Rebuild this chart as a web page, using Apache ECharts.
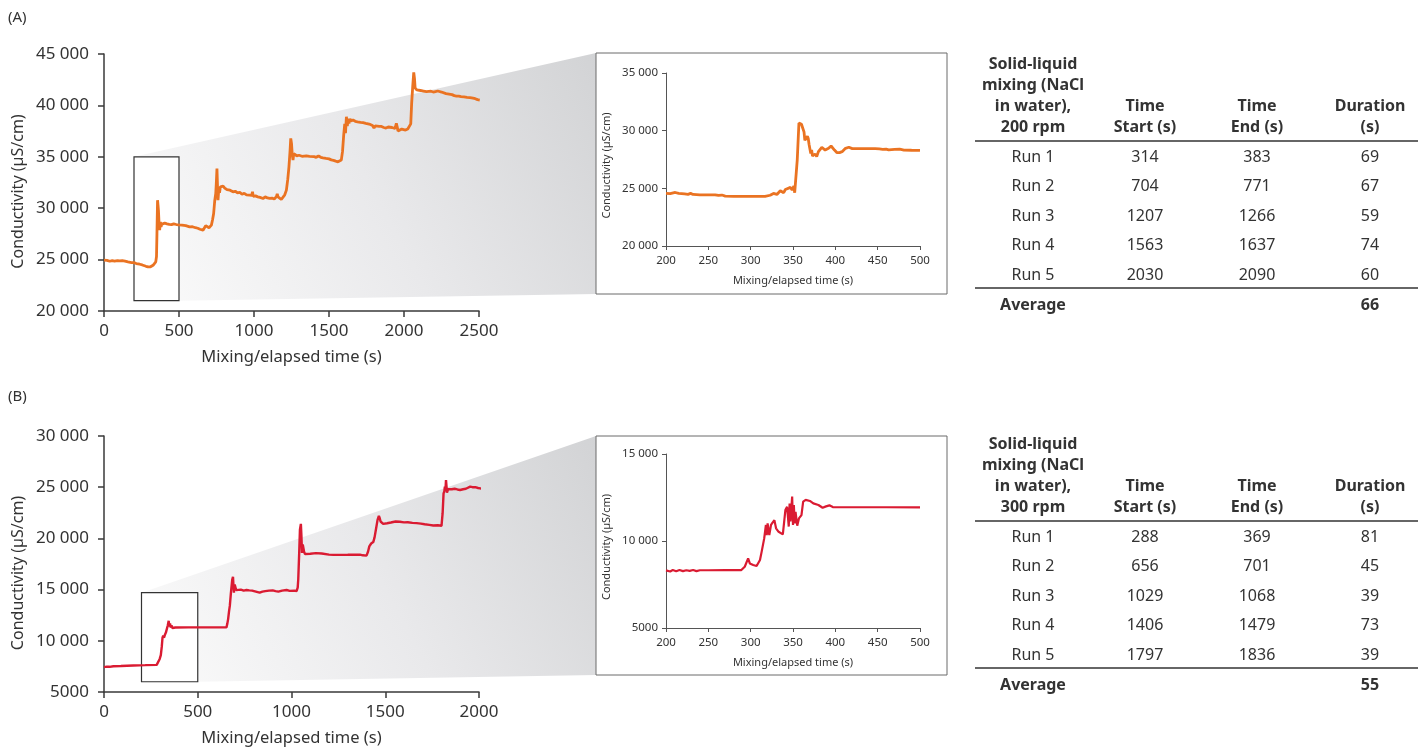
<!DOCTYPE html>
<html>
<head>
<meta charset="utf-8">
<script src="https://cdn.jsdelivr.net/npm/echarts/dist/echarts.min.js"></script>
<style>
  html, body { margin: 0; padding: 0; background: #ffffff; }
  #c { width: 1418px; height: 748px; }
</style>
</head>
<body>
<div id="c"></div>
<script>
// ---- Conductivity traces, [time (s), conductivity (µS/cm)] ----
// (A) 200 rpm, full run
const traceA = [
  [0,24950],[10,24880],[20,24930],[38,24840],[55,24900],[70,24860],[90,24900],[105,24880],
  [116,25050],[122,24900],[140,24850],[160,24780],[183,24713],[200,24700],[215,24620],[238,24550],
  [255,24480],[265,24420],[280,24350],[294,24290],[310,24300],[320,24380],[327,24450],[338,24600],
  [345,24778],[350,25300],[353,27500],[357,30783],[360,30300],[363,29800],[367,28500],[371,27860],
  [374,28400],[376,28670],[380,28200],[386,28450],[394,28445],[405,28550],[420,28480],[435,28420],
  [450,28400],[465,28480],[482,28413],[500,28380],[520,28350],[545,28300],[571,28186],[590,28200],
  [610,28100],[625,28050],[640,27950],[660,27860],[672,27950],[678,28300],[682,28186],[700,28100],
  [716,28350],[724,28900],[731,29484],[738,30700],[745,31432],[749,32500],[753,33866],[757,32000],
  [760,30783],[765,31800],[770,31500],[776,32081],[785,32200],[794,32146],[805,31950],[812,32050],
  [820,31800],[830,31900],[840,31750],[850,31800],[860,31595],[875,31650],[890,31500],[905,31550],
  [920,31350],[935,31450],[950,31300],[971,31270],[985,31250],[990,31600],[995,31150],[1010,31200],
  [1025,31100],[1040,31050],[1060,30945],[1075,31100],[1090,31000],[1105,30950],[1120,30980],
  [1135,30900],[1149,31107],[1155,31400],[1160,31100],[1170,30950],[1182,30848],[1195,31000],
  [1205,31300],[1216,31757],[1225,32800],[1233,34029],[1240,35500],[1245,36788],[1250,36300],
  [1255,35200],[1260,34678],[1265,35300],[1271,35165],[1285,35100],[1300,35150],[1320,35050],
  [1349,35100],[1370,35050],[1400,35020],[1415,34950],[1430,35080],[1445,34950],[1460,34905],
  [1480,34850],[1500,34800],[1515,34700],[1530,34650],[1545,34580],[1560,34515],[1572,34550],
  [1582,34678],[1590,35500],[1598,37113],[1605,38200],[1610,37300],[1616,38898],[1622,38000],
  [1628,38700],[1633,38249],[1640,38700],[1645,38500],[1660,38574],[1675,38450],[1690,38400],
  [1710,38350],[1727,38314],[1745,38250],[1760,38200],[1775,38150],[1790,38050],[1800,37800],
  [1808,38000],[1816,37924],[1835,37950],[1850,37950],[1865,37850],[1880,37800],[1895,37900],
  [1905,37827],[1920,37850],[1930,37900],[1940,37750],[1949,38249],[1955,37900],[1960,37502],
  [1972,37650],[1985,37700],[1998,37550],[2010,37600],[2025,37700],[2038,37664],[2045,38200],
  [2051,40196],[2058,41800],[2065,43215],[2070,42600],[2074,41700],[2078,41819],[2085,41500],
  [2094,41430],[2110,41450],[2130,41400],[2150,41350],[2180,41380],[2195,41300],[2210,41350],
  [2225,41400],[2238,41450],[2250,41300],[2260,41250],[2280,41150],[2300,41100],[2320,41050],
  [2335,40950],[2349,40910],[2365,40900],[2380,40850],[2400,40820],[2420,40780],[2440,40750],
  [2460,40700],[2475,40650],[2490,40560],[2505,40521]
];

// (A) detail, 200–500 s
const detailA = [
  [200,24560],[205,24540],[211,24640],[215,24560],[222,24520],[226,24480],[229,24560],[232,24470],
  [240,24440],[250,24440],[258,24440],[262,24380],[266,24420],[270,24330],[280,24300],[300,24300],
  [317,24300],[323,24400],[327,24560],[329,24450],[331,24470],[333,24600],[335,24790],[337,24650],
  [339,24620],[341,24900],[343,25020],[347,25080],[349,24850],[351,25200],[352,24620],[354,24700],
  [355,27440],[357,30670],[360,30560],[363,29890],[364,29170],[366,29300],[367,29520],[368,29320],
  [369,28800],[371,28030],[372,28320],[373,27800],[376,27980],[378,27750],[380,28180],[384,28560],
  [386,28500],[388,28320],[390,28350],[392,28470],[395,28670],[397,28500],[399,28320],[402,28090],
  [405,28100],[408,28180],[412,28470],[416,28560],[418,28650],[420,28440],[430,28440],[440,28440],
  [447,28440],[449,28380],[452,28420],[456,28380],[460,28400],[463,28340],[470,28380],[476,28400],
  [481,28320],[490,28300],[500,28290]
];

// (B) 300 rpm, full run
const traceB = [
  [0,7426],[15,7480],[30,7460],[50,7520],[90,7540],[156,7590],[220,7620],[281,7650],[290,7680],
  [297,8230],[303,8600],[308,9400],[312,10300],[316,10500],[320,10300],[325,10600],[330,10800],
  [335,10900],[340,11500],[345,11950],[348,11400],[352,11700],[356,11300],[360,11500],[365,11250],
  [372,11400],[380,11300],[388,11308],[450,11308],[500,11308],[560,11308],[620,11308],[653,11308],
  [658,11700],[662,12120],[667,12900],[671,13410],[677,14700],[684,15990],[688,16250],[691,15200],
  [693,14700],[697,15500],[701,15350],[705,14950],[711,14860],[730,15000],[745,14900],[760,14960],
  [775,14920],[790,14900],[810,14800],[830,14700],[845,14800],[860,14850],[880,14900],[900,14920],
  [915,14850],[930,14800],[950,14900],[974,14960],[990,14880],[1000,14850],[1015,14900],[1027,14860],
  [1033,15200],[1036,15990],[1041,18580],[1045,20840],[1050,21420],[1053,20200],[1056,18580],
  [1060,19400],[1063,19220],[1067,18700],[1072,18480],[1100,18500],[1130,18560],[1161,18520],
  [1200,18420],[1223,18390],[1300,18400],[1365,18420],[1380,18350],[1390,18380],[1400,18320],
  [1408,18700],[1415,19220],[1425,19500],[1436,19640],[1443,20100],[1450,20840],[1459,21810],
  [1466,22200],[1470,22000],[1475,21650],[1489,21420],[1510,21480],[1530,21550],[1555,21650],
  [1578,21620],[1600,21560],[1620,21580],[1645,21520],[1667,21490],[1690,21440],[1710,21380],
  [1735,21320],[1756,21260],[1780,21280],[1800,21230],[1806,22460],[1811,24400],[1815,24600],
  [1818,25050],[1821,24700],[1824,25700],[1827,25000],[1829,24470],[1835,24800],[1842,24890],
  [1855,24800],[1870,24850],[1885,24780],[1899,24730],[1915,24800],[1930,24850],[1953,25050],
  [1965,25000],[1980,25000],[1995,24920],[2006,24890],[2020,24820],[2030,24850],[2045,24780],
  [2059,24790],[2080,24850],[2098,24960]
];

// (B) detail, 200–500 s
const detailB = [
  [200,8310],[205,8250],[208,8330],[212,8260],[216,8330],[220,8270],[224,8320],[228,8280],
  [232,8330],[236,8270],[240,8320],[250,8320],[270,8330],[289,8330],[293,8520],[297,9000],
  [299,8710],[303,8620],[307,8560],[311,8910],[313,9390],[316,10150],[318,10920],[319,10340],
  [320,11010],[322,10340],[324,10920],[326,10960],[328,11200],[330,10730],[333,10530],[335,10630],
  [338,10380],[341,11780],[343,11970],[345,10830],[346,12160],[347,11120],[349,12550],[350,10920],
  [351,12070],[352,11010],[353,11680],[355,10880],[357,11300],[360,11490],[362,12260],[365,12360],
  [370,12300],[374,12160],[380,12070],[385,11910],[389,11990],[393,12050],[397,11950],[420,11940],
  [460,11940],[500,11930]
];

// Zoomed window shown in each detail plot: [tStart, tEnd, condTop, condBottom]
const zoomA = [200, 500, 35000, 21000];
const zoomB = [200, 500, 14700, 6000];

// ---- Table contents ----
const runLabels = ['Run 1', 'Run 2', 'Run 3', 'Run 4', 'Run 5'];
const startA = [314, 704, 1207, 1563, 2030];
const endA = [383, 771, 1266, 1637, 2090];
const durationA = [69, 67, 59, 74, 60];
const averageA = 66;
const startB = [288, 656, 1029, 1406, 1797];
const endB = [369, 701, 1068, 1479, 1836];
const durationB = [81, 45, 39, 73, 39];
const averageB = 55;

// ---- Styling ----
const FONT = 'Noto Sans';
const TXT = '#333333';
const ORANGE = '#EA7322';
const RED = '#DA1B32';

const fmt = v => v >= 10000 ? String(v).replace(/\B(?=(\d{3})+(?!\d))/g, ' ') : String(v);
const plain = v => String(v);

function mainXAxis(gi, max) {
  return {
    gridIndex: gi, type: 'value', min: 0, max: max, interval: 500,
    axisLine: { show: true, lineStyle: { color: '#3a3a3a', width: 1.5 } },
    axisTick: { show: true, length: 6, lineStyle: { color: '#3a3a3a', width: 1.5 } },
    axisLabel: { fontSize: 17, color: TXT, fontFamily: FONT, margin: 12, formatter: plain },
    splitLine: { show: false },
    name: 'Mixing/elapsed time (s)', nameLocation: 'middle', nameGap: 38,
    nameTextStyle: { fontSize: 16.5, color: TXT, fontFamily: FONT }
  };
}
function mainYAxis(gi, min, max) {
  return {
    gridIndex: gi, type: 'value', min: min, max: max, interval: 5000,
    axisLine: { show: true, lineStyle: { color: '#3a3a3a', width: 1.5 } },
    axisTick: { show: true, length: 6, lineStyle: { color: '#3a3a3a', width: 1.5 } },
    axisLabel: { fontSize: 17, color: TXT, fontFamily: FONT, margin: 15, formatter: fmt },
    splitLine: { show: false },
    name: 'Conductivity (µS/cm)', nameLocation: 'middle', nameGap: 78, nameRotate: 90,
    nameTextStyle: { fontSize: 16, color: TXT, fontFamily: FONT, padding: [0, 18, 0, 0] }
  };
}
function insetXAxis(gi) {
  return {
    gridIndex: gi, type: 'value', min: 200, max: 500, interval: 50,
    axisLine: { show: true, lineStyle: { color: '#555', width: 1 } },
    axisTick: { show: true, length: 4, lineStyle: { color: '#555', width: 1 } },
    axisLabel: { fontSize: 11.5, color: TXT, fontFamily: FONT, margin: 9, formatter: plain },
    splitLine: { show: false },
    name: 'Mixing/elapsed time (s)', nameLocation: 'middle', nameGap: 29,
    nameTextStyle: { fontSize: 11, color: TXT, fontFamily: FONT }
  };
}
function insetYAxis(gi, min, max) {
  return {
    gridIndex: gi, type: 'value', min: min, max: max, interval: 5000,
    axisLine: { show: true, lineStyle: { color: '#555', width: 1 } },
    axisTick: { show: true, length: 4, lineStyle: { color: '#555', width: 1 } },
    axisLabel: { fontSize: 11.5, color: TXT, fontFamily: FONT, margin: 8, formatter: fmt },
    splitLine: { show: false },
    name: 'Conductivity (µS/cm)', nameLocation: 'middle', nameGap: 54, nameRotate: 90,
    nameTextStyle: { fontSize: 11, color: TXT, fontFamily: FONT, padding: [0, 12, 0, 0] }
  };
}
function zoomMark(z) {
  return {
    silent: true,
    itemStyle: { color: 'rgba(0,0,0,0)', borderColor: '#333', borderWidth: 1.2 },
    data: [[{ coord: [z[0], z[2]] }, { coord: [z[1], z[3]] }]]
  };
}

const grids = [
  { left: 104, top: 54, width: 375, height: 257 },      // (A) main
  { left: 666, top: 73, width: 254, height: 173 },      // (A) detail
  { left: 104, top: 436, width: 375, height: 257 },     // (B) main
  { left: 666, top: 454, width: 254, height: 174 }      // (B) detail
];
// Frames around the detail plots
const insetFrames = [
  { x: 596, y: 53, w: 351, h: 241 },
  { x: 596, y: 436, w: 351, h: 239 }
];

const chart = echarts.init(document.getElementById('c'));
chart.setOption({
  animation: false,
  backgroundColor: '#ffffff',
  grid: grids,
  xAxis: [mainXAxis(0, 2500), insetXAxis(1), mainXAxis(2, 2000), insetXAxis(3)],
  yAxis: [mainYAxis(0, 20000, 45000), insetYAxis(1, 20000, 35000),
          mainYAxis(2, 5000, 30000), insetYAxis(3, 5000, 15000)],
  series: [
    { type: 'line', xAxisIndex: 0, yAxisIndex: 0, data: traceA, showSymbol: false,
      lineStyle: { color: ORANGE, width: 2.8 }, itemStyle: { color: ORANGE },
      markArea: zoomMark(zoomA), z: 3 },
    { type: 'line', xAxisIndex: 1, yAxisIndex: 1, data: detailA, showSymbol: false,
      lineStyle: { color: ORANGE, width: 2.8 }, itemStyle: { color: ORANGE } },
    { type: 'line', xAxisIndex: 2, yAxisIndex: 2, data: traceB, showSymbol: false, clip: false,
      lineStyle: { color: RED, width: 2.4 }, itemStyle: { color: RED },
      markArea: zoomMark(zoomB), z: 3 },
    { type: 'line', xAxisIndex: 3, yAxisIndex: 3, data: detailB, showSymbol: false,
      lineStyle: { color: RED, width: 2.2 }, itemStyle: { color: RED } }
  ]
});

// Tapered grey band connecting each zoom window to its detail plot
function band(gridIndex, z, frame) {
  const f = { xAxisIndex: gridIndex, yAxisIndex: gridIndex };
  const tl = chart.convertToPixel(f, [z[0], z[2]]);
  const tr = chart.convertToPixel(f, [z[1], z[2]]);
  const br = chart.convertToPixel(f, [z[1], z[3]]);
  return {
    type: 'polygon', silent: true, z: -10,
    shape: { points: [tl, [frame.x, frame.y], [frame.x, frame.y + frame.h], br, tr] },
    style: {
      fill: { type: 'linear', x: 0, y: 1, x2: 1, y2: 0,
              colorStops: [{ offset: 0, color: '#fbfbfb' }, { offset: 0.5, color: '#e9e9eb' },
                           { offset: 1, color: '#d2d3d5' }] }
    }
  };
}

function text(x, y, s, opts) {
  return {
    type: 'text', x: x, y: y, silent: true,
    style: Object.assign({ text: s, fill: TXT, font: '16px "' + FONT + '"',
                           textAlign: 'center', textVerticalAlign: 'middle' }, opts || {})
  };
}
function rule(y) {
  return { type: 'line', silent: true, shape: { x1: 975, y1: y, x2: 1418, y2: y },
           style: { stroke: '#333', lineWidth: 1.5 } };
}

const COLS = [1033, 1145, 1257, 1370];
function table(top, rpm, starts, ends, durs, avg) {
  const bold = { font: 'bold 16px "' + FONT + '"' };
  const g = [];
  const hdr = ['Solid-liquid', 'mixing (NaCl', 'in water),', rpm + ' rpm'];
  hdr.forEach((s, i) => g.push(text(COLS[0], top + i * 21, s, bold)));
  g.push(text(COLS[1], top + 42, 'Time', bold), text(COLS[1], top + 63, 'Start (s)', bold));
  g.push(text(COLS[2], top + 42, 'Time', bold), text(COLS[2], top + 63, 'End (s)', bold));
  g.push(text(COLS[3], top + 42, 'Duration', bold), text(COLS[3], top + 63, '(s)', bold));
  g.push(rule(top + 77));
  runLabels.forEach((r, i) => {
    const y = top + 93 + i * 29.5;
    g.push(text(COLS[0], y, r), text(COLS[1], y, String(starts[i])),
           text(COLS[2], y, String(ends[i])), text(COLS[3], y, String(durs[i])));
  });
  g.push(rule(top + 224));
  g.push(text(COLS[0], top + 241, 'Average', bold), text(COLS[3], top + 241, String(avg), bold));
  return g;
}

const graphics = [
  band(0, zoomA, insetFrames[0]),
  band(2, zoomB, insetFrames[1]),
  ...insetFrames.map(f => ({ type: 'rect', silent: true, z: 5,
    shape: { x: f.x, y: f.y, width: f.w, height: f.h },
    style: { fill: 'none', stroke: '#6b6b6b', lineWidth: 1 } })),
  text(8, 18, '(A)', { textAlign: 'left', font: '15px "' + FONT + '"' }),
  text(8, 397, '(B)', { textAlign: 'left', font: '15px "' + FONT + '"' }),
  ...table(64, 200, startA, endA, durationA, averageA),
  ...table(444, 300, startB, endB, durationB, averageB)
];
chart.setOption({ graphic: graphics });
</script>
</body>
</html>
